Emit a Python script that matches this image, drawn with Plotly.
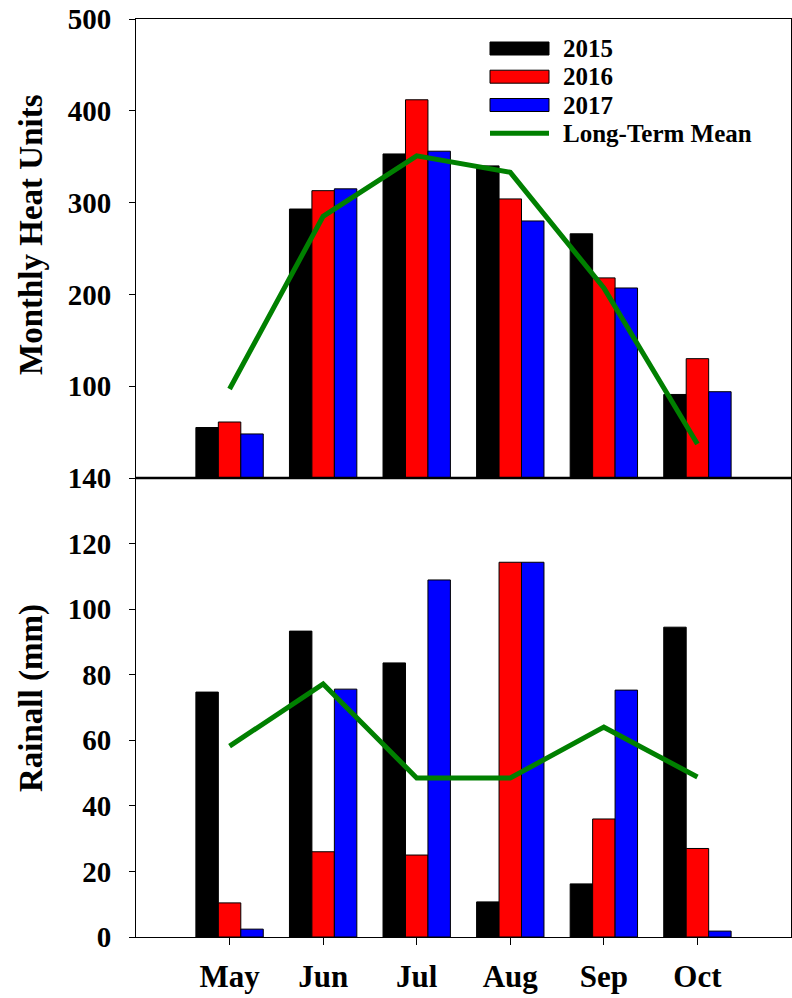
import plotly.graph_objects as go
from plotly.subplots import make_subplots

months = ["May", "Jun", "Jul", "Aug", "Sep", "Oct"]
years = ["2015", "2016", "2017"]
colors = ["#000000", "#ff0000", "#0000ff"]

heat_2015 = [55, 293, 353, 340, 266, 91]
heat_2016 = [61, 313, 412, 304, 218, 130]
heat_2017 = [48, 315, 356, 280, 207, 94]
heat_mean = [97, 285, 351, 333, 207, 37]

rain_2015 = [74.7, 93.3, 83.6, 10.7, 16.2, 94.5]
rain_2016 = [10.4, 26.0, 25.0, 114.3, 36.0, 27.0]
rain_2017 = [2.4, 75.6, 108.9, 114.3, 75.3, 1.8]
rain_mean = [58.2, 77.2, 48.5, 48.5, 64.0, 48.8]

heat_ticks = [100, 200, 300, 400, 500]
rain_ticks = [0, 20, 40, 60, 80, 100, 120, 140]

FONT = "Liberation Serif"
GREEN = "#008000"

x = list(range(len(months)))

fig = make_subplots(rows=2, cols=1, shared_xaxes=True, vertical_spacing=0)

for vals, c in zip([heat_2015, heat_2016, heat_2017], colors):
    fig.add_trace(go.Bar(x=x, y=vals, marker=dict(color=c, line=dict(color="black", width=1)),
                         showlegend=False), row=1, col=1)
fig.add_trace(go.Scatter(x=x, y=heat_mean, mode="lines", line=dict(color=GREEN, width=5),
                         showlegend=False), row=1, col=1)

for vals, c in zip([rain_2015, rain_2016, rain_2017], colors):
    fig.add_trace(go.Bar(x=x, y=vals, marker=dict(color=c, line=dict(color="black", width=1)),
                         showlegend=False), row=2, col=1)
fig.add_trace(go.Scatter(x=x, y=rain_mean, mode="lines", line=dict(color=GREEN, width=5),
                         showlegend=False), row=2, col=1)

W, H = 792, 998
ML, MR, MT, MB = 136, 1, 19, 61
pw, ph = W - ML - MR, H - MT - MB

def px(xp):
    return (xp - ML) / pw

def py(yp):
    return (H - MB - yp) / ph

tickfont = dict(family=FONT, size=29, color="black", weight="bold")
titlefont = dict(family=FONT, size=33, color="black", weight="bold")

fig.update_layout(
    width=W, height=H,
    margin=dict(l=ML, r=MR, t=MT, b=MB, autoexpand=False),
    paper_bgcolor="white", plot_bgcolor="white",
    barmode="group", bargap=0.28, bargroupgap=0,
    showlegend=False,
)

fig.update_xaxes(range=[-1, 6], showgrid=False, zeroline=False, showline=True,
                 linecolor="black", linewidth=1, mirror=True, automargin=False)
fig.update_xaxes(showticklabels=False, ticks="", row=1, col=1)
fig.update_xaxes(tickvals=x, ticktext=months, ticks="outside", ticklen=7, tickcolor="black",
                 tickfont=dict(family=FONT, size=31, color="black", weight="bold"),
                 ticklabelstandoff=5, row=2, col=1)

fig.update_yaxes(range=[0, 500], tickvals=heat_ticks, row=1, col=1)
fig.update_yaxes(range=[0, 140], tickvals=rain_ticks, row=2, col=1)
fig.update_yaxes(showgrid=False, zeroline=False, showline=True, linecolor="black", linewidth=1,
                 mirror=True, ticks="outside", ticklen=6, tickcolor="black",
                 tickfont=tickfont, ticklabelstandoff=12, automargin=False)

# axis titles
for text, yc in [("Monthly Heat Units", 235), ("Rainall (mm)", 698)]:
    fig.add_annotation(xref="paper", yref="paper", x=px(31), y=py(yc), text=text,
                       textangle=-90, showarrow=False, xanchor="center", yanchor="middle",
                       font=titlefont)

# divider between panels
fig.add_shape(type="line", xref="paper", yref="paper", x0=0, x1=1, y0=0.5, y1=0.5,
              line=dict(color="black", width=2.5))

# custom legend
leg_rows = [(48.5, "2015", colors[0]), (76.7, "2016", colors[1]), (105, "2017", colors[2])]
for yc, label, c in leg_rows:
    fig.add_shape(type="rect", xref="paper", yref="paper",
                  x0=px(490), x1=px(549), y0=py(yc + 6.5), y1=py(yc - 6.5),
                  fillcolor=c, line=dict(color="black", width=1))
    fig.add_annotation(xref="paper", yref="paper", x=px(561), y=py(yc), text=label,
                       showarrow=False, xanchor="left", yanchor="middle",
                       font=dict(family=FONT, size=25, color="black", weight="bold"))
fig.add_shape(type="line", xref="paper", yref="paper", x0=px(490), x1=px(549),
              y0=py(133.3), y1=py(133.3), line=dict(color=GREEN, width=5))
fig.add_annotation(xref="paper", yref="paper", x=px(561), y=py(133.3), text="Long-Term Mean",
                   showarrow=False, xanchor="left", yanchor="middle",
                   font=dict(family=FONT, size=25, color="black", weight="bold"))

fig.write_html("out.html", config={"displayModeBar": False},
               post_script="document.body.style.margin='0';")
